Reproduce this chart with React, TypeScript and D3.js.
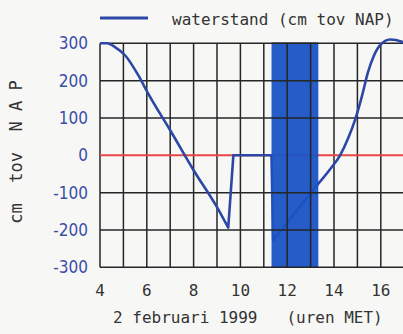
import React from "react";
import * as d3 from "d3";

// water level, hours (MET) on 2 Feb 1999 vs cm relative to NAP
// falling limb, gap (flat / shaded), rising limb
const fallHours = [4, 4.3, 4.64, 5.07, 5.64, 6.06, 7, 8, 9, 9.48];
const fallLevels = [300, 300, 290, 268, 214, 165, 67, -40, -139, -194];
const gapHours = [9.48, 9.7, 11.33, 11.4, 13.33];
const gapLevels = [-194, 0, 0, -228, -76];
const riseHours = [13.33, 13.8, 14.26, 14.6, 14.9, 15.2, 15.45, 15.7, 15.97, 16.4, 16.9, 17];
const riseLevels = [-76, -40, 0, 45, 95, 160, 222, 266, 295, 310, 304, 300];

const xTicks = [4, 6, 8, 10, 12, 14, 16];
const yTicks = [300, 200, 100, 0, -100, -200, -300];
const band = [11.33, 13.33];

const W = 403;
const H = 334;
const mono = "'DejaVu Sans Mono', monospace";

const App: React.FC = () => {
  const x = d3.scaleLinear().domain([4, 17]).range([100, 404.2]);
  const y = d3.scaleLinear().domain([-300, 300]).range([267.3, 43.3]);

  const zip = (hs: number[], vs: number[]): [number, number][] => hs.map((h, i) => [h, vs[i]]);
  const smooth = d3
    .line<[number, number]>()
    .x((d) => x(d[0]))
    .y((d) => y(d[1]))
    .curve(d3.curveMonotoneX);
  const straight = d3
    .line<[number, number]>()
    .x((d) => x(d[0]))
    .y((d) => y(d[1]));

  const pathD =
    (smooth(zip(fallHours, fallLevels)) ?? "") +
    (straight(zip(gapHours, gapLevels)) ?? "").replace(/^M/, "L") +
    (smooth(zip(riseHours, riseLevels)) ?? "").replace(/^M/, "L");

  const gridHours = d3.range(4, 18);
  const gridLevels = d3.range(-300, 301, 100).filter((v) => v !== 0);
  const gridColor = "#262626";
  const bx0 = x(band[0]);
  const bx1 = x(band[1]);

  const grid = (prefix: string, x0: number, x1: number, hs: number[]) => (
    <g>
      {hs.map((h) => (
        <line key={prefix + "v" + h} x1={x(h)} x2={x(h)} y1={y(300)} y2={y(-300)} stroke={gridColor} strokeWidth={1.5} />
      ))}
      {gridLevels.map((v) => (
        <line key={prefix + "h" + v} x1={x0} x2={x1} y1={y(v)} y2={y(v)} stroke={gridColor} strokeWidth={1.5} />
      ))}
    </g>
  );

  return (
    <svg
      width={W}
      height={H}
      style={{ position: "fixed", left: 0, top: 0, background: "#f7f8f6" }}
    >
      {/* legend */}
      <line x1={100} x2={148} y1={18} y2={18} stroke="#2c47a6" strokeWidth={3} />
      <text x={172} y={25} fontFamily={mono} fontSize={16} fill="#333">
        waterstand (cm tov NAP)
      </text>

      {grid("a", x(4), x(17), gridHours)}

      {/* zero line */}
      <line x1={x(4)} x2={x(17)} y1={y(0)} y2={y(0)} stroke="#e84444" strokeWidth={2} />

      {/* water level */}
      <path d={pathD} fill="none" stroke="#2c47a6" strokeWidth={2.6} strokeLinejoin="round" />

      {/* shaded period */}
      <rect x={bx0} y={y(300)} width={bx1 - bx0} height={y(-300) - y(300)} fill="#1a53c4" opacity={0.95} />

      {/* grid shows through the shaded period */}
      {grid("b", bx0, bx1, gridHours.filter((h) => h > band[0] && h < band[1]))}

      {/* y tick labels */}
      {yTicks.map((v) => (
        <text
          key={"yt" + v}
          x={88}
          y={y(v)}
          dy="0.36em"
          textAnchor="end"
          fontFamily="'DejaVu Sans Condensed', 'DejaVu Sans', sans-serif"
          fontSize={17}
          fill="#3a4ea8"
        >
          {v}
        </text>
      ))}

      {/* x tick labels */}
      {xTicks.map((h) => (
        <text key={"xt" + h} x={x(h)} y={296} textAnchor="middle" fontFamily={mono} fontSize={16} fill="#333">
          {h}
        </text>
      ))}

      {/* axis titles */}
      <text x={113} y={323} fontFamily={mono} fontSize={16} fill="#333" style={{ whiteSpace: "pre" }}>
        {"2 februari 1999   (uren MET)"}
      </text>
      <text
        transform="translate(22,152) rotate(-90)"
        textAnchor="middle"
        fontFamily={mono}
        fontSize={17}
        fill="#333"
        style={{ whiteSpace: "pre" }}
      >
        {"cm  tov  N A P"}
      </text>
    </svg>
  );
};

export default App;
